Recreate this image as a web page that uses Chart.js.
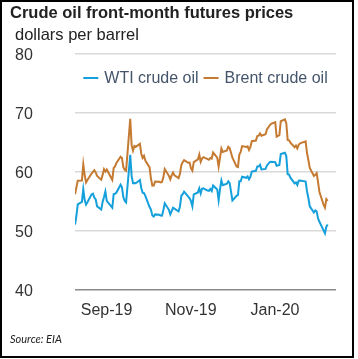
<!DOCTYPE html>
<html><head><meta charset="utf-8">
<script src="https://cdn.jsdelivr.net/npm/chart.js@4.4.0/dist/chart.umd.min.js"></script>
<style>
html,body{margin:0;padding:0;background:#fff;}
#wrap{position:relative;width:358px;height:359px;overflow:hidden;background:#fff;}
canvas{position:absolute;left:0;top:0;}
#frame{position:absolute;left:0;top:0;width:354px;height:358px;border:2px solid #000;box-sizing:border-box;pointer-events:none;}
.t{position:absolute;white-space:nowrap;font-family:"Liberation Sans",Arial,sans-serif;color:#222;}
#title{left:10px;top:4px;font-size:16.5px;line-height:16px;font-weight:bold;}
#sub{left:15px;top:26px;font-size:16.5px;line-height:16px;}
#src{left:10px;top:333px;font-size:11px;line-height:11px;font-style:italic;font-family:Lato,"Open Sans",sans-serif;}
</style></head>
<body>
<div id="wrap">
<canvas id="c" width="358" height="359"></canvas>
<div class="t" id="title">Crude oil front-month futures prices</div>
<div class="t" id="sub">dollars per barrel</div>
<div class="t" id="src">Source: EIA</div>
<div id="frame"></div>
</div>
<script>
const dates = [
'2019-08-07','2019-08-08','2019-08-09','2019-08-12','2019-08-13','2019-08-14','2019-08-15','2019-08-16','2019-08-19','2019-08-20','2019-08-21','2019-08-22','2019-08-23','2019-08-26','2019-08-27','2019-08-28','2019-08-29','2019-08-30',
'2019-09-03','2019-09-04','2019-09-05','2019-09-06','2019-09-09','2019-09-10','2019-09-11','2019-09-12','2019-09-13','2019-09-16','2019-09-17','2019-09-18','2019-09-19','2019-09-20','2019-09-23','2019-09-24','2019-09-25','2019-09-26','2019-09-27','2019-09-30',
'2019-10-01','2019-10-02','2019-10-03','2019-10-04','2019-10-07','2019-10-08','2019-10-09','2019-10-10','2019-10-11','2019-10-14','2019-10-15','2019-10-16','2019-10-17','2019-10-18','2019-10-21','2019-10-22','2019-10-23','2019-10-24','2019-10-25','2019-10-28','2019-10-29','2019-10-30','2019-10-31',
'2019-11-01','2019-11-04','2019-11-05','2019-11-06','2019-11-07','2019-11-08','2019-11-11','2019-11-12','2019-11-13','2019-11-14','2019-11-15','2019-11-18','2019-11-19','2019-11-20','2019-11-21','2019-11-22','2019-11-25','2019-11-26','2019-11-27','2019-11-29',
'2019-12-02','2019-12-03','2019-12-04','2019-12-05','2019-12-06','2019-12-09','2019-12-10','2019-12-11','2019-12-12','2019-12-13','2019-12-16','2019-12-17','2019-12-18','2019-12-19','2019-12-20','2019-12-23','2019-12-24','2019-12-26','2019-12-27','2019-12-30','2019-12-31',
'2020-01-02','2020-01-03','2020-01-06','2020-01-07','2020-01-08','2020-01-09','2020-01-10','2020-01-13','2020-01-14','2020-01-15','2020-01-16','2020-01-17','2020-01-21','2020-01-22','2020-01-23','2020-01-24','2020-01-27','2020-01-28','2020-01-29','2020-01-30','2020-01-31',
'2020-02-03','2020-02-04','2020-02-05','2020-02-06'
];
const wti = [
51.09,52.54,54.50,54.93,57.10,55.23,54.47,54.87,56.21,56.34,55.68,55.35,54.17,53.64,54.93,55.78,56.71,55.10,
53.94,56.26,56.30,56.52,57.85,57.40,55.75,55.09,54.85,62.90,59.34,58.11,58.13,58.09,58.64,57.29,56.49,56.41,55.91,54.07,
53.62,52.64,52.45,52.81,52.75,52.63,52.59,53.55,54.70,53.59,52.81,53.36,53.93,53.78,53.31,54.16,55.97,56.23,56.66,55.81,55.54,55.06,54.18,
56.20,56.54,57.23,56.35,57.15,57.24,56.86,56.80,57.12,56.77,57.72,57.05,55.21,57.11,58.58,57.77,58.01,58.41,58.11,55.17,
55.96,56.10,58.43,58.43,59.20,59.02,59.24,58.76,59.18,60.07,60.21,60.94,60.93,61.22,60.44,60.52,61.11,61.68,61.72,61.68,61.06,
61.18,63.05,63.27,62.70,59.61,59.56,59.04,58.08,58.23,57.81,58.52,58.54,58.38,56.74,55.59,54.19,53.14,53.48,53.33,52.14,51.56,
50.11,49.61,50.75,51.10
];
const brent = [
56.23,57.38,58.53,58.57,61.30,59.48,58.23,58.64,59.74,60.03,60.30,59.92,59.34,58.70,59.51,60.49,60.08,60.43,
58.66,60.70,60.95,61.54,62.59,62.38,60.81,60.38,60.22,69.02,64.55,63.60,64.40,64.28,64.77,63.10,62.39,62.74,61.91,60.78,
58.89,57.69,57.71,58.37,58.35,58.24,58.32,59.10,60.51,59.35,58.74,59.42,59.91,59.42,58.96,59.70,61.17,61.67,62.02,61.57,61.59,60.61,60.23,
61.69,62.13,62.96,61.74,62.29,62.51,62.18,62.06,62.37,62.28,63.30,62.44,60.91,62.40,63.97,63.39,63.65,64.27,64.06,62.43,
60.92,60.82,62.96,63.39,64.39,64.25,64.34,63.72,64.20,65.22,65.34,66.10,66.17,66.54,66.14,66.39,67.20,67.92,68.16,68.44,66.00,
66.25,68.60,68.91,68.27,65.44,65.37,64.98,64.20,64.49,64.00,64.62,64.85,65.20,63.21,62.04,60.69,59.32,59.51,59.81,58.29,56.62,
54.45,53.96,55.40,55.10
];
const seriesNames = ['WTI crude oil','Brent crude oil'];
const tickDates = ['2019-09-01','2019-11-01','2020-01-01'];
const tickLabels = ['Sep-19','Nov-19','Jan-20'];
const yTicks = [40,50,60,70,80];
const xRange = ['2019-08-07','2020-02-12'];

const FONT = '"Liberation Sans", Arial, sans-serif';
const COLORS = ['#159FDB','#C57A32'];
function day(s){const p=s.split('-').map(Number);return Date.UTC(p[0],p[1]-1,p[2])/864e5;}

const legendPlugin = {
  id:'customLegend',
  afterDatasetsDraw(chart){
    const ctx = chart.ctx, a = chart.chartArea;
    ctx.save();
    ctx.font = '16px ' + FONT;
    const lineW = 15, gap = 6, spacing = 5;
    const items = chart.data.datasets.map(d=>({t:d.label, c:d.borderColor, w:ctx.measureText(d.label).width}));
    const total = items.reduce((s,it)=>s+lineW+gap+it.w,0) + spacing*(items.length-1);
    let x = (a.left + a.right)/2 - total/2;
    const ly = a.top + 24, ty = a.top + 28.5;
    items.forEach(it=>{
      ctx.strokeStyle = it.c; ctx.lineWidth = 2;
      ctx.beginPath(); ctx.moveTo(x, ly); ctx.lineTo(x+lineW, ly); ctx.stroke();
      x += lineW + gap;
      ctx.fillStyle = '#44546A'; ctx.textBaseline = 'alphabetic'; ctx.textAlign = 'left';
      ctx.fillText(it.t, x, ty);
      x += it.w + spacing;
    });
    ctx.restore();
  }
};

new Chart(document.getElementById('c'), {
  type:'line',
  data:{
    datasets:[
      {label:seriesNames[0], data:dates.map((d,i)=>({x:day(d),y:wti[i]})), borderColor:COLORS[0], backgroundColor:COLORS[0], borderWidth:2, pointRadius:0, tension:0},
      {label:seriesNames[1], data:dates.map((d,i)=>({x:day(d),y:brent[i]})), borderColor:COLORS[1], backgroundColor:COLORS[1], borderWidth:2, pointRadius:0, tension:0}
    ]
  },
  options:{
    responsive:false, animation:false, devicePixelRatio:1,
    layout:{padding:{left:15,right:22,top:54,bottom:39}},
    plugins:{legend:{display:false}, tooltip:{enabled:false}},
    scales:{
      x:{
        type:'linear', min:day(xRange[0]), max:day(xRange[1]),
        afterBuildTicks:s=>{s.ticks = tickDates.map(d=>({value:day(d)}));},
        ticks:{
          callback:(v)=>{const i = tickDates.findIndex(d=>day(d)===v); return i>=0 ? tickLabels[i] : '';},
          autoSkip:false, maxRotation:0, padding:11, labelOffset:-3,
          font:{size:16, family:FONT}, color:'#333'
        },
        grid:{display:false, drawTicks:false}, border:{display:false},
        afterFit:s=>{s.height = 30;}
      },
      y:{
        min:40, max:80,
        afterBuildTicks:s=>{s.ticks = yTicks.map(v=>({value:v}));},
        ticks:{crossAlign:'far', padding:0, labelOffset:2, font:{size:16, family:FONT}, color:'#333'},
        grid:{color:c=> (c.tick && c.tick.value===40) ? '#8a8a8a' : '#d9d9d9', lineWidth:1.5, drawTicks:false},
        border:{display:false},
        afterFit:s=>{s.width = 60;}
      }
    }
  },
  plugins:[legendPlugin]
});
</script>
</body></html>
